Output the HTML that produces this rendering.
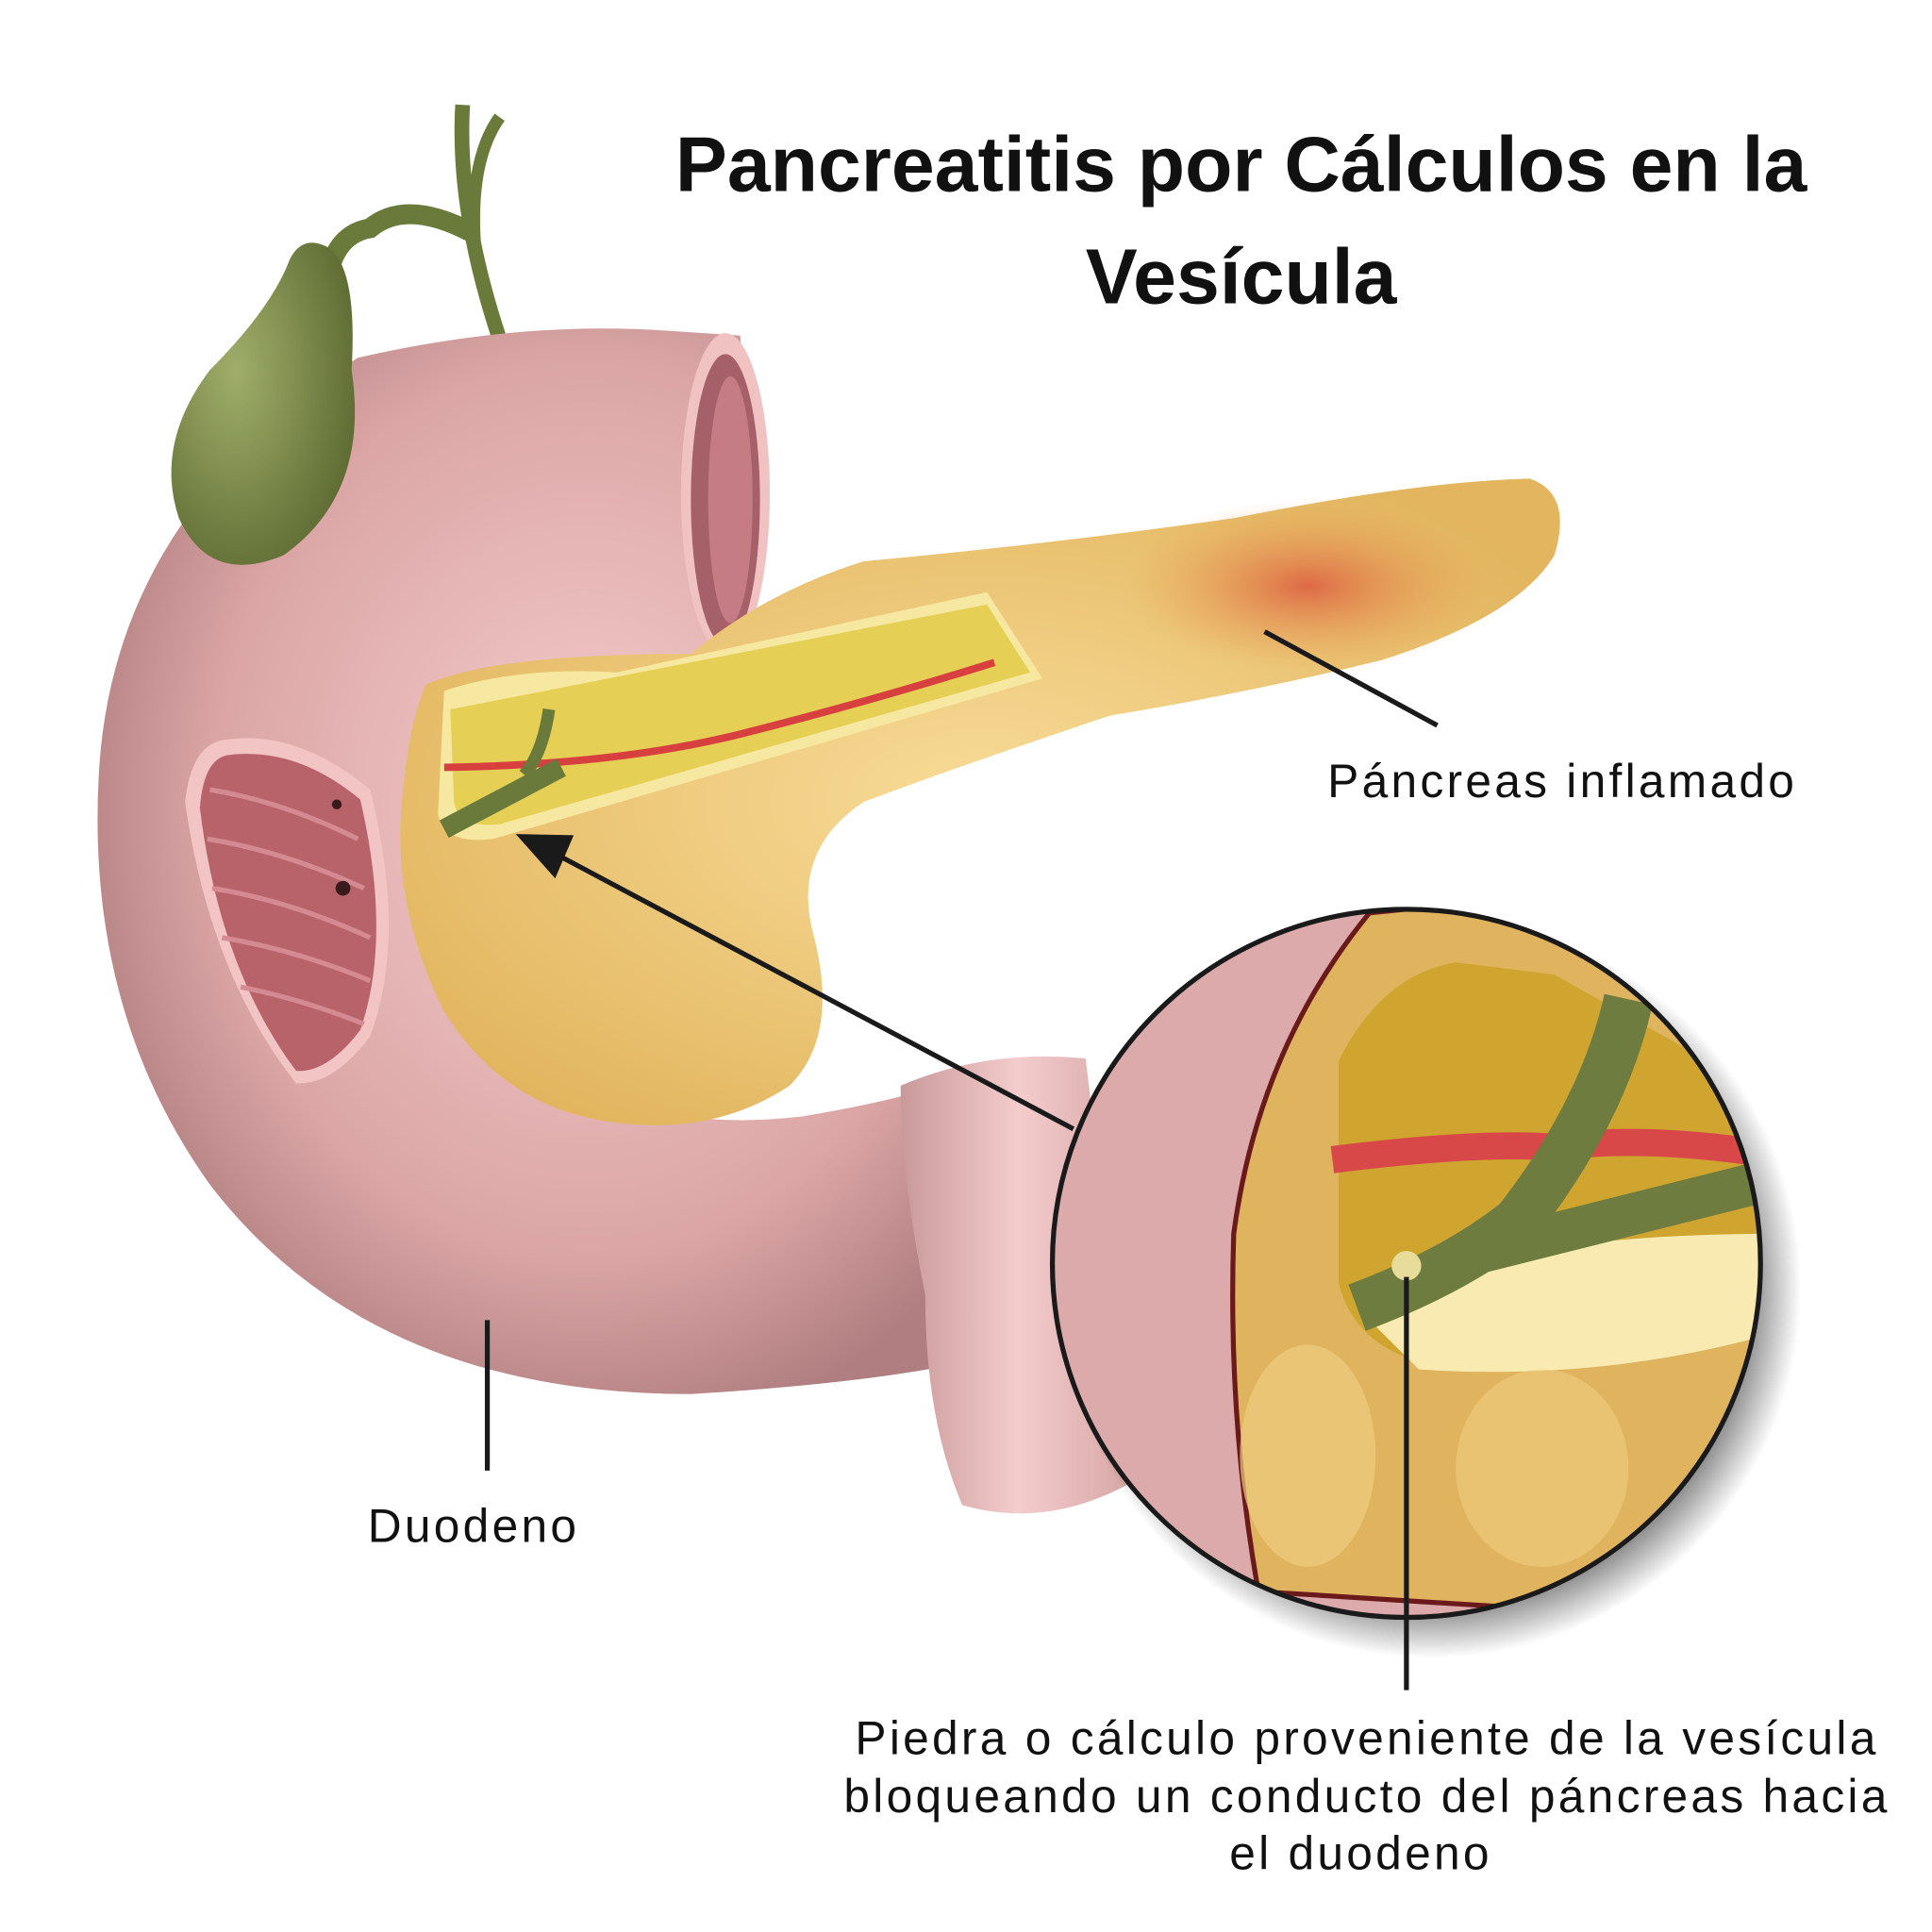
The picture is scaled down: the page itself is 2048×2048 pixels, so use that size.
<!DOCTYPE html>
<html><head><meta charset="utf-8"><style>html,body{margin:0;padding:0;background:#fff}svg{display:block}</style></head>
<body>
<svg width="2048" height="2048" viewBox="0 0 1566 1566" xmlns="http://www.w3.org/2000/svg">
<defs>
<radialGradient id="pk" cx="0.55" cy="0.45" r="0.6"><stop offset="0" stop-color="#f5cccc"/><stop offset="0.7" stop-color="#dba5a5"/><stop offset="1" stop-color="#b07e80"/></radialGradient>
<linearGradient id="pk2" x1="0" y1="0" x2="1" y2="0"><stop offset="0" stop-color="#c9999a"/><stop offset="0.5" stop-color="#f4cccc"/><stop offset="1" stop-color="#d7a6a6"/></linearGradient>
<radialGradient id="gb" cx="0.35" cy="0.4" r="0.7"><stop offset="0" stop-color="#a0ae6a"/><stop offset="1" stop-color="#5d6a32"/></radialGradient>
<radialGradient id="yl" cx="0.5" cy="0.5" r="0.6"><stop offset="0" stop-color="#f8dc98"/><stop offset="1" stop-color="#e2b55e"/></radialGradient>
<radialGradient id="inf" cx="0.5" cy="0.5" r="0.5"><stop offset="0" stop-color="#dc5a3e" stop-opacity="0.85"/><stop offset="1" stop-color="#e8a050" stop-opacity="0"/></radialGradient>
<radialGradient id="sh" cx="0.5" cy="0.5" r="0.5"><stop offset="0.85" stop-color="#000" stop-opacity="0.5"/><stop offset="1" stop-color="#000" stop-opacity="0"/></radialGradient>
<clipPath id="cc"><circle cx="1140" cy="1024" r="287"/></clipPath>
</defs>

<text x="1006" y="155" font-family="Liberation Sans, sans-serif" font-weight="bold" font-size="63" text-anchor="middle" fill="#111">Pancreatitis por Cálculos en la</text>
<text x="1006" y="246" font-family="Liberation Sans, sans-serif" font-weight="bold" font-size="63" text-anchor="middle" fill="#111">Vesícula</text>

<path d="M375 85 Q370 170 405 275" stroke="#6a7a3a" stroke-width="12" fill="none"/>
<path d="M405 95 Q380 130 385 200" stroke="#6a7a3a" stroke-width="10" fill="none"/>
<path d="M385 190 Q330 160 300 185 Q270 190 265 230" stroke="#6a7a3a" stroke-width="16" fill="none"/>

<path d="M290 290 Q420 260 540 268 L600 272 L615 520 L560 560 Q500 570 470 600 Q420 700 470 860 Q520 920 650 905 Q740 890 790 870 L800 1100 Q720 1120 560 1130 Q300 1130 170 960 Q70 820 80 630 Q90 420 290 290 Z" fill="url(#pk)"/>
<path d="M730 880 Q800 850 880 858 L920 1200 Q850 1240 780 1220 Q750 1150 750 1050 Q730 950 730 880 Z" fill="url(#pk2)"/>
<ellipse cx="588" cy="400" rx="36" ry="130" fill="#f0c2c2"/>
<ellipse cx="588" cy="405" rx="28" ry="118" fill="#a5606a"/>
<ellipse cx="592" cy="405" rx="18" ry="100" fill="#c67c84"/>
<path d="M180 600 Q240 590 300 640 Q330 760 300 840 Q270 880 240 878 Q170 790 150 650 Q155 605 180 600 Z" fill="#f2c4c4"/>
<path d="M185 612 Q240 605 292 648 Q318 760 292 835 Q265 870 240 868 Q178 785 162 655 Q165 615 185 612 Z" fill="#b8636a"/>
<g stroke="#d48a90" stroke-width="4" fill="none">
<path d="M170 640 Q230 650 290 680"/><path d="M168 680 Q230 690 295 720"/><path d="M172 720 Q235 730 300 760"/><path d="M180 760 Q240 770 300 795"/><path d="M195 800 Q245 810 295 830"/></g>
<circle cx="273" cy="652" r="4" fill="#3a1a1a"/><circle cx="278" cy="720" r="6" fill="#3a1a1a"/>

<path d="M265 200 Q290 215 285 300 Q300 400 230 450 Q170 475 145 420 Q125 360 170 300 Q220 250 235 210 Q245 190 265 200 Z" fill="url(#gb)"/>

<path d="M345 555 Q400 530 560 530 Q620 480 700 455 Q860 440 1000 420 Q1150 390 1240 388 Q1275 400 1260 450 Q1230 500 1120 535 Q1020 560 900 580 Q780 620 700 650 Q640 690 660 760 Q680 840 640 880 Q580 920 500 910 Q410 900 360 820 Q320 740 325 660 Q330 590 345 555 Z" fill="url(#yl)"/>
<ellipse cx="1060" cy="475" rx="150" ry="70" fill="url(#inf)"/>
<path d="M360 560 Q420 540 500 545 L800 480 L845 550 L400 680 Q360 685 355 660 Z" fill="#f6e8a0"/>
<path d="M365 575 L800 490 L835 545 L405 668 Q372 672 368 650 Z" fill="#e6cf55"/>
<path d="M360 622 Q500 620 600 595 Q700 570 806 537" stroke="#d84040" stroke-width="6" fill="none"/>
<path d="M360 672 L455 622" stroke="#6a7a3a" stroke-width="16"/>
<path d="M445 575 Q440 610 425 628" stroke="#6a7a3a" stroke-width="10" fill="none"/>

<line x1="1025" y1="512" x2="1165" y2="588" stroke="#1a1a1a" stroke-width="4"/>
<line x1="395" y1="1070" x2="395" y2="1192" stroke="#1a1a1a" stroke-width="4"/>

<circle cx="1160" cy="1044" r="300" fill="url(#sh)"/>
<circle cx="1140" cy="1024" r="287" fill="#dcaaaa"/>
<g clip-path="url(#cc)">
<path d="M1110 740 Q1020 850 1000 1000 Q995 1150 1020 1290 L1500 1320 L1500 700 Z" fill="#e0b35e" stroke="#6a1a1a" stroke-width="4"/>
<path d="M1085 860 Q1120 790 1180 780 L1260 790 L1420 880 L1430 1060 Q1300 1090 1180 1110 Q1100 1100 1085 1040 Z" fill="#cfa530"/>
<path d="M1100 1060 Q1200 1000 1440 1000 L1440 1080 Q1300 1120 1150 1110 Z" fill="#f8eab0"/>
<path d="M1080 940 Q1200 925 1260 930 Q1330 920 1430 935" stroke="#d84848" stroke-width="22" fill="none"/>
<path d="M1320 810 Q1300 900 1230 990 Q1180 1030 1100 1060" stroke="#6e7c40" stroke-width="40" fill="none"/>
<path d="M1200 1015 Q1300 990 1420 960" stroke="#6e7c40" stroke-width="34" fill="none"/>
<circle cx="1140" cy="1026" r="12" fill="#e8dc9a"/>
<ellipse cx="1060" cy="1180" rx="55" ry="90" fill="#f0cd80" opacity="0.7"/>
<ellipse cx="1250" cy="1190" rx="70" ry="80" fill="#f0cd80" opacity="0.6"/>
</g>
<circle cx="1140" cy="1024" r="287" fill="none" stroke="#1a1a1a" stroke-width="4"/>

<line x1="870" y1="915" x2="450" y2="692" stroke="#1a1a1a" stroke-width="4"/>
<polygon points="418,676 465,677 450,712" fill="#1a1a1a"/>
<line x1="1140" y1="1035" x2="1140" y2="1370" stroke="#1a1a1a" stroke-width="4"/>

<g font-family="Liberation Sans, sans-serif" font-size="38" fill="#111" letter-spacing="2.5">
<text x="1076" y="646">Páncreas inflamado</text>
<text x="298" y="1250">Duodeno</text>
<text x="1108" y="1422" text-anchor="middle">Piedra o cálculo proveniente de la vesícula</text>
<text x="1108" y="1469" text-anchor="middle">bloqueando un conducto del páncreas hacia</text>
<text x="1103" y="1515" text-anchor="middle">el duodeno</text>
</g>
</svg>
</body></html>
